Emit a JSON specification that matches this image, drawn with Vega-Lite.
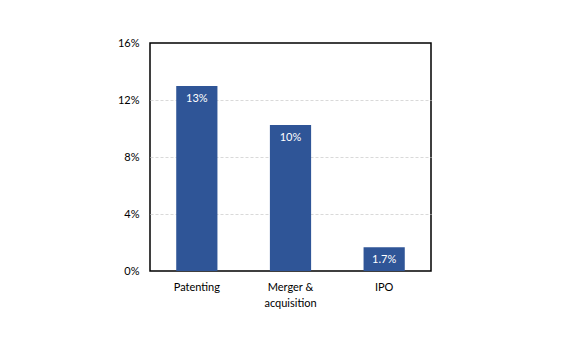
{
  "$schema": "https://vega.github.io/schema/vega-lite/v6.json",
  "autosize": {"type": "none"},
  "width": 281,
  "height": 228,
  "padding": {"left": 150, "top": 43, "right": 149, "bottom": 85},
  "background": "white",
  "config": {
    "view": {"stroke": "black", "strokeWidth": 1.5},
    "font": "Lato"
  },
  "data": {
    "values": [
      {"category": "Patenting", "value": 0.1298, "label": "13%"},
      {"category": "Merger & acquisition", "value": 0.1025, "label": "10%"},
      {"category": "IPO", "value": 0.0167, "label": "1.7%"}
    ]
  },
  "encoding": {
    "x": {
      "field": "category",
      "type": "nominal",
      "sort": null,
      "scale": {"paddingInner": 0.56, "paddingOuter": 0.28},
      "axis": {
        "title": null,
        "labelAngle": 0,
        "ticks": false,
        "domain": false,
        "labelPadding": 10,
        "labelFontSize": 11,
        "labelColor": "#000000",
        "labelLineHeight": 16,
        "labelExpr": "datum.label == 'Merger & acquisition' ? ['Merger &', 'acquisition'] : datum.label"
      }
    },
    "y": {
      "field": "value",
      "type": "quantitative",
      "scale": {"domain": [0, 0.16]},
      "axis": {
        "title": null,
        "values": [0, 0.04, 0.08, 0.12, 0.16],
        "format": ".0%",
        "ticks": false,
        "domain": false,
        "labelPadding": 11,
        "labelFontSize": 11,
        "labelColor": "#000000",
        "gridColor": "#d9d9d9",
        "gridDash": [3, 2],
        "gridWidth": 1,
        "gridOpacity": {"condition": {"test": "datum.value <= 0 || datum.value >= 0.16", "value": 0}, "value": 1}
      }
    }
  },
  "layer": [
    {"mark": {"type": "bar", "color": "#2F5597"}},
    {
      "mark": {"type": "text", "color": "white", "baseline": "middle", "dy": 13, "fontSize": 11},
      "encoding": {"text": {"field": "label"}}
    }
  ]
}
